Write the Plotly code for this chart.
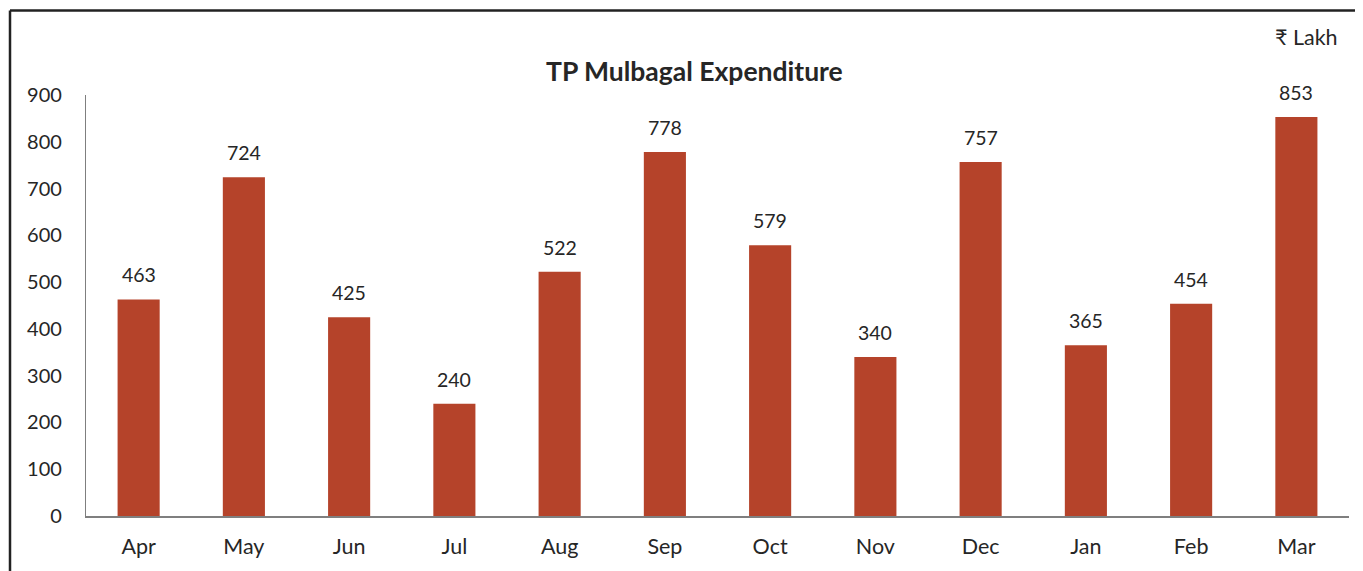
import plotly.graph_objects as go

months = ["Apr", "May", "Jun", "Jul", "Aug", "Sep", "Oct", "Nov", "Dec", "Jan", "Feb", "Mar"]
expenditure = [463, 724, 425, 240, 522, 778, 579, 340, 757, 365, 454, 853]
y_ticks = [0, 100, 200, 300, 400, 500, 600, 700, 800, 900]

# page has an 8px body margin; work in screen coordinates and convert
OFF = 8
W, H = 1363 - OFF, 571 - OFF
L, R, T, B = 86 - OFF, 14, 95 - OFF, 53
pw, ph = W - L - R, H - T - B

def px(x):
    return (x - OFF - L) / pw

def py(y):
    return (H - B - (y - OFF)) / ph

font_family = "Lato, Open Sans, sans-serif"
text_color = "#262626"

fig = go.Figure(go.Bar(
    x=months, y=expenditure,
    marker=dict(color="#B5432A", line=dict(width=0)),
    hoverinfo="x+y",
))

for m, v in zip(months, expenditure):
    fig.add_annotation(x=m, y=v, text=str(v), showarrow=False, xanchor="center",
                       yanchor="bottom", yshift=11,
                       font=dict(size=19.5, color=text_color, family=font_family))

fig.update_layout(
    width=W, height=H,
    margin=dict(l=L, r=R, t=T, b=B),
    paper_bgcolor="white", plot_bgcolor="white",
    bargap=0.6,
    showlegend=False,
    font=dict(family=font_family, color=text_color),
    xaxis=dict(showgrid=False, showline=True, linecolor="#7f7f7f", linewidth=1.5,
               ticks="", ticklabelstandoff=10, tickfont=dict(size=21.5, color=text_color)),
    yaxis=dict(range=[0, 900], tickvals=y_ticks, showgrid=False, showline=True,
               linecolor="#7f7f7f", linewidth=1.2, ticks="", ticklabelstandoff=19,
               tickfont=dict(size=20, color=text_color), zeroline=False),
    shapes=[
        dict(type="line", xref="paper", yref="paper", x0=px(10), x1=px(1400),
             y0=py(10), y1=py(10), line=dict(color="#222222", width=2.5)),
        dict(type="line", xref="paper", yref="paper", x0=px(10), x1=px(10),
             y0=py(10), y1=py(600), line=dict(color="#222222", width=2.5)),
    ],
)

fig.add_annotation(text="<b>TP Mulbagal Expenditure</b>", xref="paper", yref="paper",
                   x=px(694), y=py(71), showarrow=False, xanchor="center", yanchor="middle",
                   font=dict(size=26.5, color=text_color, family=font_family))
fig.add_annotation(text="₹ Lakh", xref="paper", yref="paper",
                   x=px(1340), y=py(37), showarrow=False, xanchor="right", yanchor="middle",
                   font=dict(size=21.5, color=text_color, family=font_family))

fig.write_html("out.html")
